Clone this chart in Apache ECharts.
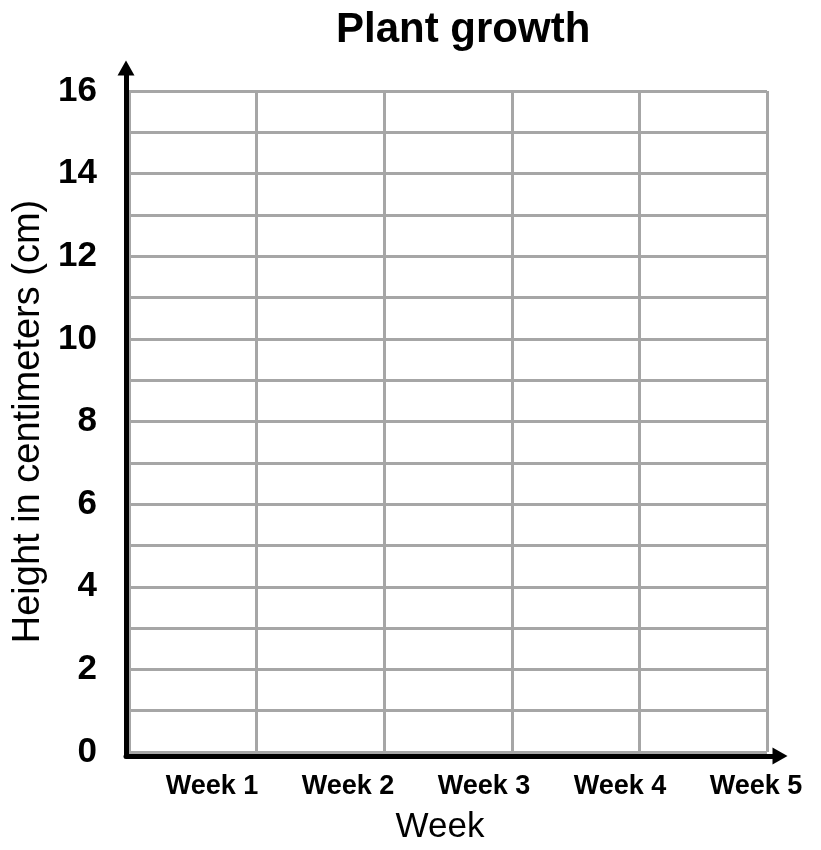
<!DOCTYPE html>
<html>
<head>
    <meta charset="utf-8">
    <title>Plant growth</title>
    <script src="https://cdn.jsdelivr.net/npm/echarts@6/dist/echarts.min.js"></script>
    <style>
        html, body { margin: 0; padding: 0; background: #fff; }
        #chart { width: 821px; height: 850px; }
    </style>
</head>
<body>
<div id="chart"></div>
<script>
    // data
    let weeks = ['Week 1', 'Week 2', 'Week 3', 'Week 4', 'Week 5'];
    let heights = [];            // empty worksheet, nothing plotted yet
    let yMin = 0, yMax = 16, yStep = 1;
    let yLabelEvery = 2;         // only even heights get a label

    let font = 'Liberation Sans, Arial, sans-serif';
    let gridColor = '#a6a6a6';

    let chart = echarts.init(document.getElementById('chart'));

    let hidden = {show: false};
    let arrowLine = {
        show: true,
        symbol: ['none', 'triangle'],
        symbolSize: [17, 15],
        lineStyle: {color: '#000', width: 5}
    };

    let option = {
        animation: false,
        title: {
            text: 'Plant growth',
            left: 331,
            top: 4,
            textStyle: {fontFamily: font, fontSize: 42, fontWeight: 'bold', color: '#000'}
        },
        grid: [
            // plot area with the grey squares
            {left: 129, right: 54, top: 91, bottom: 94},
            // black axes with arrows, a bit longer than the plot
            {left: 126, right: 41, top: 68, bottom: 94},
            // week labels
            {left: 212, right: 65, top: 91, bottom: 94}
        ],
        xAxis: [
            {
                gridIndex: 0,
                type: 'value',
                min: 0,
                max: weeks.length,
                interval: 1,
                axisLine: hidden,
                axisTick: hidden,
                axisLabel: hidden,
                splitLine: {show: true, lineStyle: {color: gridColor, width: 3}},
                name: 'Week',
                nameLocation: 'middle',
                nameGap: 58,
                nameTextStyle: {fontFamily: font, fontSize: 35, color: '#000', padding: [0, 16, 0, 0]}
            },
            {
                gridIndex: 1,
                type: 'value',
                min: 0,
                max: 1,
                axisLine: arrowLine,
                axisTick: hidden,
                axisLabel: hidden,
                splitLine: hidden
            },
            {
                gridIndex: 2,
                type: 'category',
                data: weeks,
                boundaryGap: false,
                axisLine: hidden,
                axisTick: hidden,
                splitLine: hidden,
                axisLabel: {
                    margin: 17,
                    interval: 0,
                    fontFamily: font,
                    fontSize: 27,
                    fontWeight: 'bold',
                    color: '#000'
                }
            }
        ],
        yAxis: [
            {
                gridIndex: 0,
                type: 'value',
                min: yMin,
                max: yMax,
                interval: yStep,
                axisLine: hidden,
                axisTick: hidden,
                splitLine: {show: true, lineStyle: {color: gridColor, width: 3}},
                axisLabel: {
                    margin: 32,
                    fontFamily: font,
                    fontSize: 35,
                    fontWeight: 'bold',
                    color: '#000',
                    formatter: function(v) {
                        return v % yLabelEvery === 0 ? String(v) : '';
                    }
                },
                name: 'Height in centimeters (cm)',
                nameLocation: 'middle',
                nameGap: 66,
                nameTextStyle: {fontFamily: font, fontSize: 38, color: '#000'}
            },
            {
                gridIndex: 1,
                type: 'value',
                min: 0,
                max: 1,
                axisLine: arrowLine,
                axisTick: hidden,
                axisLabel: hidden,
                splitLine: hidden
            },
            {
                gridIndex: 2,
                type: 'value',
                min: yMin,
                max: yMax,
                show: false
            }
        ],
        series: [
            {
                name: 'Height',
                type: 'line',
                xAxisIndex: 2,
                yAxisIndex: 2,
                data: heights
            }
        ]
    };

    chart.setOption(option);
</script>
</body>
</html>
